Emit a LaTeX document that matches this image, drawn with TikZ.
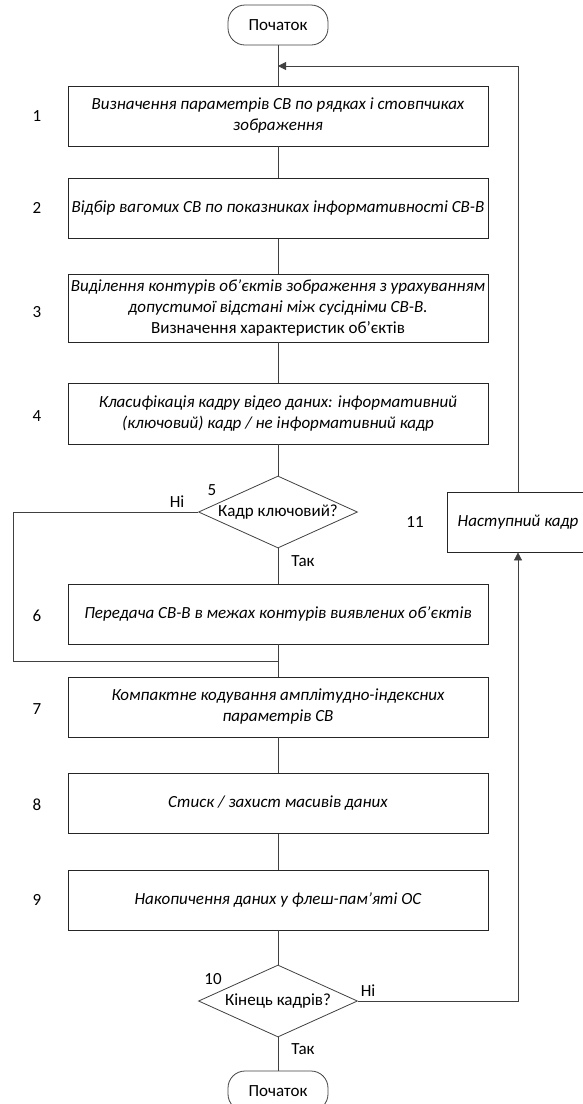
\documentclass[tikz,border=0pt]{standalone}
\usepackage{fontspec}
\setmainfont{Carlito}
\usetikzlibrary{shapes.geometric,arrows.meta}
\tikzset{
  blok/.style={draw=black!85,line width=0.8pt,minimum width=420pt,minimum height=60pt,
    align=center,inner sep=2pt,font=\itshape\fontsize{17}{21}\selectfont},
  kinec/.style={draw=black!75,line width=0.8pt,rounded corners=17pt,minimum width=100pt,
    minimum height=40pt,font=\fontsize{17}{20}\selectfont},
  rishennya/.style={draw=black!75,line width=0.8pt,diamond,aspect=2.2,inner sep=0pt,
    minimum width=159pt,minimum height=72pt,font=\fontsize{17}{20}\selectfont},
  mitka/.style={font=\fontsize{17}{20}\selectfont},
  zvyazok/.style={draw=black!75,line width=0.8pt},
  strilka/.style={zvyazok,-{Triangle[length=8pt,width=8pt]}}
}
\begin{document}
\begin{tikzpicture}[x=1pt,y=-1pt]
\useasboundingbox (0,0) rectangle (582,1104);
\coordinate (Z) at (278,66);
\coordinate (V) at (278,661);
\coordinate (RT) at (518,66);
\coordinate (RB) at (518,1001);
\coordinate (LT) at (13,512);
\coordinate (LB) at (13,661);
% blocks
\node[kinec] (start) at (278,25) {Початок};
\node[blok] (b1) at (278,116) {Визначення параметрів СВ по рядках і стовпчиках\\зображення};
\node[blok] (b2) at (278,208.5) {Відбір вагомих СВ по показниках інформативності СВ-В};
\node[blok,minimum height=68pt] (b3) at (278,308) {Виділення контурів об'єктів зображення з урахуванням\\допустимої відстані між сусідніми СВ-В.\\{\upshape Визначення характеристик об'єктів}};
\node[blok,minimum height=61pt] (b4) at (278,413.5) {Класифікація кадру відео даних: інформативний\\(ключовий) кадр / не інформативний кадр};
\node[rishennya] (d5) at (278,512) {Кадр ключовий?};
\node[blok] (b6) at (278,614) {Передача СВ-В в межах контурів виявлених об'єктів};
\node[blok] (b7) at (278,707) {Компактне кодування амплітудно-індексних\\параметрів СВ};
\node[blok] (b8) at (278,803.5) {Стиск / захист масивів даних};
\node[blok] (b9) at (278,900) {Накопичення даних у флеш-пам'яті ОС};
\node[rishennya] (d10) at (278,1001) {Кінець кадрів?};
\node[kinec] (kin) at (278,1091) {Початок};
\node[blok,minimum width=142pt] (b11) at (518,522) {Наступний кадр};
% numbers
\node[mitka] (n1) at (37,116) {1};
\node[mitka] (n2) at (37,208) {2};
\node[mitka] (n3) at (37,312) {3};
\node[mitka] (n4) at (37,416) {4};
\node[mitka] (n5) at (212,490) {5};
\node[mitka] (n6) at (37,616) {6};
\node[mitka] (n7) at (37,709) {7};
\node[mitka] (n8) at (37,805) {8};
\node[mitka] (n9) at (37,900) {9};
\node[mitka] (n10) at (213,979) {10};
\node[mitka] (n11) at (415,522) {11};
\node[mitka] (ni5) at (177,502) {Ні};
\node[mitka] (tak5) at (303,561) {Так};
\node[mitka] (ni10) at (368,991) {Ні};
\node[mitka] (tak10) at (303,1049) {Так};
% lines
\draw[zvyazok] (start) -- (b1);
\draw[zvyazok] (b1) -- (b2);
\draw[zvyazok] (b2) -- (b3);
\draw[zvyazok] (b3) -- (b4);
\draw[zvyazok] (b4) -- (d5);
\draw[zvyazok] (d5) -- (b6);
\draw[zvyazok] (b6) -- (b7);
\draw[zvyazok] (d5.west) -- (LT) -- (LB) -- (V);
\draw[zvyazok] (b7) -- (b8);
\draw[zvyazok] (b8) -- (b9);
\draw[zvyazok] (b9) -- (d10);
\draw[zvyazok] (d10) -- (kin);
\draw[strilka] (d10.east) -- (RB) -- (b11.south);
\draw[strilka] (b11.north) -- (RT) -- (Z);
\end{tikzpicture}
\end{document}
